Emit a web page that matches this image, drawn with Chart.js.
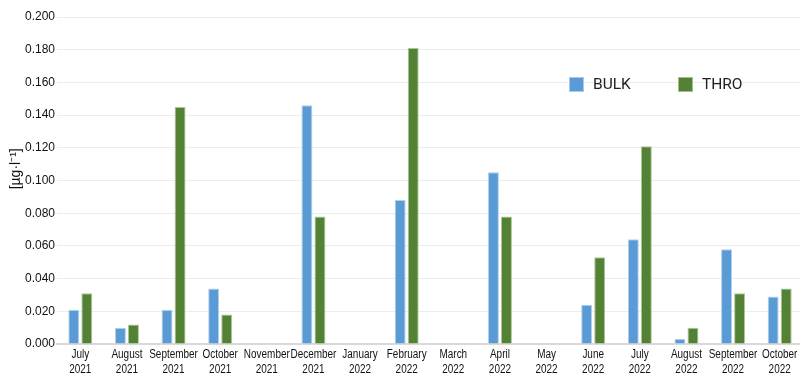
<!DOCTYPE html>
<html>
<head>
<meta charset="utf-8">
<script src="https://cdn.jsdelivr.net/npm/chart.js@4"></script>
<style>
  html, body { margin: 0; padding: 0; background: #fff; overflow: hidden; }
  #wrap { position: relative; width: 800px; height: 386px; overflow: hidden; }
  .legend { position: absolute; top: 75px; font: 15.5px Roboto, "Liberation Sans", sans-serif; color: #222; display: flex; align-items: center; }
  .legend span.box { width: 15px; height: 15px; display: inline-block; margin-right: 9px; box-sizing: border-box; }
</style>
</head>
<body>
<div id="wrap">
  <canvas id="chart" width="803" height="386"></canvas>
  <div class="legend" style="left:569px"><span class="box" style="background:#5b9bd5;border:1px solid #a9c9ea"></span>BULK</div>
  <div class="legend" style="left:678px"><span class="box" style="background:#548235;border:1px solid #a4bf8c"></span>THRO</div>
</div>
<script>
const months = [
  ["July", "2021"], ["August", "2021"], ["September", "2021"], ["October", "2021"],
  ["November", "2021"], ["December", "2021"], ["January", "2022"], ["February", "2022"],
  ["March", "2022"], ["April", "2022"], ["May", "2022"], ["June", "2022"],
  ["July", "2022"], ["August", "2022"], ["September", "2022"], ["October", "2022"]
];
const bulk = [0.021, 0.010, 0.021, 0.034, null, 0.146, null, 0.088, null, 0.105, null, 0.024, 0.064, 0.003, 0.058, 0.029];
const thro = [0.031, 0.012, 0.145, 0.018, null, 0.078, null, 0.181, null, 0.078, null, 0.053, 0.121, 0.010, 0.031, 0.034];

// x labels in the original use a condensed face, so squeeze them horizontally
const narrowTicks = {
    id: 'narrowTicks',
    afterDraw(chart) {
        const sc = chart.scales.x;
        const ctx = chart.ctx;
        ctx.save();
        ctx.font = '12px "Liberation Sans", Arial, sans-serif';
        ctx.fillStyle = '#111';
        ctx.textAlign = 'center';
        ctx.textBaseline = 'top';
        months.forEach((m, i) => {
            const x = sc.getPixelForTick(i);
            m.forEach((line, j) => {
                ctx.save();
                ctx.translate(x, sc.top + 5 + j * 15);
                ctx.scale(0.83, 1);
                ctx.fillText(line, 0, 0);
                ctx.restore();
            });
        });
        ctx.restore();
    }
};

new Chart(document.getElementById("chart"), {
    type: 'bar',
    data: {
        labels: months,
        datasets: [{
            label: 'BULK',
            data: bulk,
            backgroundColor: '#5b9bd5',
            borderColor: '#b3d0ee',
            borderWidth: 1
        }, {
            label: 'THRO',
            data: thro,
            backgroundColor: '#548235',
            borderColor: '#adc79a',
            borderWidth: 1
        }]
    },
    options: {
        responsive: false,
        animation: false,
        categoryPercentage: 0.56,
        barPercentage: 0.84,
        layout: { padding: { top: 17, right: 0, bottom: 0, left: 0 } },
        plugins: {
            legend: { display: false },
            tooltip: { enabled: false }
        },
        scales: {
            x: {
                grid: { display: false, drawTicks: false },
                border: { color: '#d9d9d9', width: 2 },
                afterFit: (scale) => { scale.height = 42; },
                ticks: {
                    color: 'rgba(0,0,0,0)',
                    maxRotation: 0,
                    autoSkip: false,
                    font: { size: 10 }
                }
            },
            y: {
                min: 0,
                max: 0.2,
                grid: { color: '#ececec', drawTicks: false },
                border: { display: false },
                afterFit: (scale) => { scale.width = 57; },
                title: {
                    display: true,
                    text: '      [µg·l\u207B\u00B9]',
                    color: '#111',
                    padding: { top: 8, bottom: 0 },
                    font: { family: '"Liberation Sans", Arial, sans-serif', size: 14 }
                },
                ticks: {
                    stepSize: 0.02,
                    color: '#111',
                    padding: 2,
                    font: { family: '"Liberation Sans", Arial, sans-serif', size: 12 },
                    callback: (v) => v.toFixed(3)
                }
            }
        }
    },
    plugins: [narrowTicks]
});
</script>
</body>
</html>
